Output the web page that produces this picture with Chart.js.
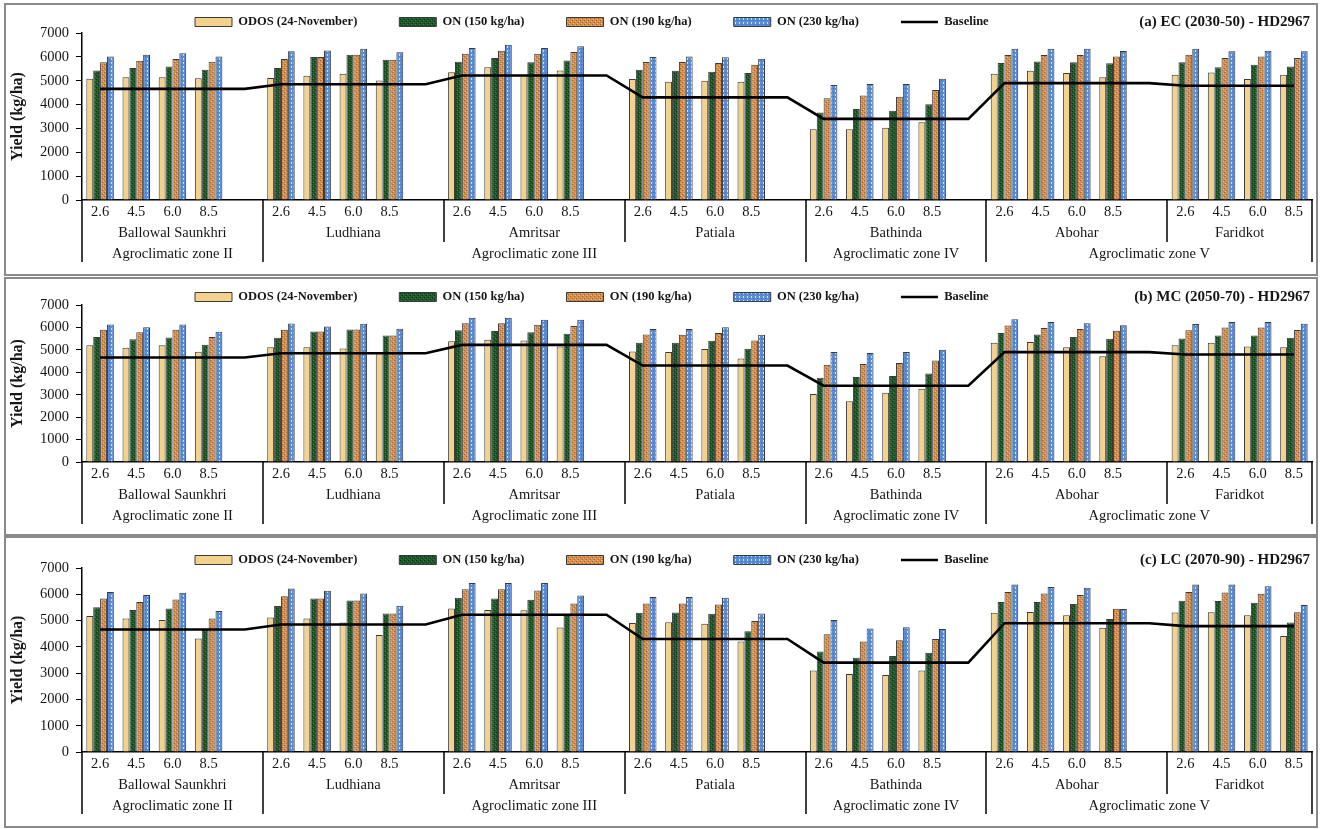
<!DOCTYPE html>
<html>
<head>
<meta charset="utf-8">
<script src="https://cdn.jsdelivr.net/npm/chart.js@4.4.1/dist/chart.umd.min.js"></script>
<style>
  body { margin: 0; background: #fff; }
  .panel { position: absolute; left: 4px; width: 1310px; border: 2px solid #8a8a8a; background: #fff; }
  canvas { display: block; }
</style>
</head>
<body>
<div class="panel" style="top:3px"><canvas id="cA" width="1310" height="269"></canvas></div>
<div class="panel" style="top:277px"><canvas id="cB" width="1310" height="255"></canvas></div>
<div class="panel" style="top:536px"><canvas id="cC" width="1310" height="288"></canvas></div>
<script>
const rcps = ['2.6', '4.5', '6.0', '8.5'];
const locations = ['Ballowal Saunkhri', 'Ludhiana', 'Amritsar', 'Patiala', 'Bathinda', 'Abohar', 'Faridkot'];
const zones = ['Agroclimatic zone II', 'Agroclimatic zone III', 'Agroclimatic zone IV', 'Agroclimatic zone V'];
const zoneOfLocation = [0, 1, 1, 1, 2, 3, 3];
const baseline = [4660, 4850, 5220, 4300, 3400, 4900, 4790];

// yields, 4 RCPs per location, locations in order above
const odosA  = [5080,5150,5150,5100, 5110,5210,5290,5010, 5350,5560,5250,5430, 5070,4960,5000,4960, 2970,2970,3030,3260, 5290,5420,5320,5140, 5250,5340,5070,5250];
const on150A = [5430,5530,5600,5460, 5530,5990,6090,5880, 5800,5950,5770,5850, 5460,5420,5380,5320, 3670,3810,3740,4010, 5740,5810,5770,5730, 5770,5560,5670,5600];
const on190A = [5770,5840,5910,5800, 5910,5990,6090,5880, 6130,6260,6130,6200, 5780,5780,5740,5670, 4260,4380,4330,4610, 6080,6080,6080,6020, 6090,5950,6010,5950];
const on230A = [6010,6090,6150,6020, 6230,6270,6340,6190, 6370,6510,6370,6440, 5990,6020,5980,5920, 4820,4860,4860,5080, 6340,6340,6340,6250, 6340,6230,6260,6230];

const odosB  = [5200,5090,5200,4920, 5120,5120,5060,4900, 5380,5450,5420,5150, 4930,4900,5040,4620, 3030,2710,3090,3270, 5320,5350,5120,4720, 5200,5320,5150,5120];
const on150B = [5570,5470,5550,5230, 5540,5820,5910,5640, 5870,5840,5780,5720, 5320,5320,5410,5050, 3760,3790,3830,3950, 5750,5690,5570,5500, 5510,5640,5640,5540];
const on190B = [5900,5780,5900,5570, 5900,5820,5910,5640, 6190,6190,6120,6060, 5690,5670,5750,5420, 4340,4370,4410,4530, 6090,5980,5930,5850, 5870,6000,6000,5880];
const on230B = [6130,6010,6130,5810, 6180,6040,6160,5940, 6430,6430,6340,6340, 5930,5930,6010,5670, 4900,4860,4900,5010, 6360,6240,6190,6100, 6150,6240,6240,6160];

const odosC  = [5170,5080,5020,4320, 5120,5080,4930,4450, 5460,5400,5390,4740, 4910,4940,4880,4200, 3100,2970,2930,3100, 5300,5330,5200,4730, 5310,5320,5200,4410];
const on150C = [5510,5400,5460,4640, 5550,5840,5760,5270, 5870,5840,5790,5210, 5300,5310,5260,4590, 3820,3590,3650,3780, 5710,5710,5630,5060, 5750,5740,5680,4930];
const on190C = [5840,5710,5800,5080, 5930,5840,5760,5270, 6190,6190,6140,5650, 5650,5650,5610,4980, 4480,4200,4250,4300, 6090,6030,5970,5450, 6090,6070,6020,5320];
const on230C = [6090,5970,6060,5360, 6220,6130,6030,5560, 6430,6430,6430,5950, 5900,5900,5870,5270, 5020,4700,4750,4680, 6370,6280,6250,5440, 6370,6370,6310,5590];

const seriesNames = ['ODOS (24-November)', 'ON (150 kg/ha)', 'ON (190 kg/ha)', 'ON (230 kg/ha)'];

// slot layout: 4 RCP slots per location, one empty slot between locations
const slotLabels = [];
const locStart = [];
const locEnd = [];
locations.forEach((loc, i) => {
    locStart.push(slotLabels.length);
    rcps.forEach(r => slotLabels.push(r));
    if (i < locations.length - 1) slotLabels.push('');
    locEnd.push(slotLabels.length - 1);
});
const nSlots = slotLabels.length;

const locCenters = locations.map((l, i) => (locStart[i] + locEnd[i]) / 2);
const zoneCenters = zones.map((z, zi) => {
    const idx = zoneOfLocation.map((v, i) => v === zi ? i : -1).filter(i => i >= 0);
    return (locStart[idx[0]] + locEnd[idx[idx.length - 1]]) / 2;
});

// vertical separators under the axis
const dividers = [{ at: -0.5, long: true }];
locations.forEach((l, i) => {
    if (i === 0) return;
    dividers.push({ at: locStart[i] - 0.5, long: zoneOfLocation[i] !== zoneOfLocation[i - 1] });
});
dividers.push({ at: nSlots - 0.5, long: true });

function toSlots(vals) {
    const out = [];
    locations.forEach((l, i) => {
        for (let k = 0; k < rcps.length; k++) out.push(vals[i * rcps.length + k]);
        if (i < locations.length - 1) out.push(null);
    });
    return out;
}

function baselineSlots() {
    const out = [];
    locations.forEach((l, i) => {
        for (let k = locStart[i]; k <= locEnd[i]; k++) out.push(baseline[i]);
    });
    return out;
}

function makePattern(base, px, size) {
    const c = document.createElement('canvas');
    c.width = size; c.height = size;
    const g = c.getContext('2d');
    g.fillStyle = base;
    g.fillRect(0, 0, size, size);
    px.forEach(p => { g.fillStyle = p[2]; g.fillRect(p[0], p[1], 1, 1); });
    return g.createPattern(c, 'repeat');
}

const fills = [
    '#f3d28e',
    makePattern('#1e5a29', [[0, 0, '#0c3614'], [2, 2, '#0c3614'], [1, 3, '#3b7f45'], [3, 1, '#3b7f45']], 4),
    makePattern('#d48f4e', [[0, 1, '#a6632b'], [2, 3, '#a6632b'], [1, 0, '#f0b575'], [3, 2, '#f0b575']], 4),
    makePattern('#5b8dd6', [[1, 1, '#dbe7fa'], [3, 3, '#3e6ebf'], [1, 2, '#c8daf5']], 4)
];

const serif = "'Liberation Serif', 'Times New Roman', serif";
const textColor = '#161616';

const panelDecor = {
    id: 'panelDecor',
    beforeUpdate(chart) {
        const lg = chart.legend;
        if (lg && !lg._noSpace) {
            const fit = lg.fit;
            lg.fit = function () { fit.call(this); this.height = 0; };
            lg._noSpace = true;
        }
    },
    afterLayout(chart, args, opts) {
        const lg = chart.legend;
        const pad = lg.options.labels.padding;
        lg.left = opts.legendX - pad;
        lg.right = chart.width;
        lg.top = opts.legendY - pad - 6.25;
        lg.bottom = opts.legendY + 12;
    },
    afterDraw(chart, args, opts) {
        const ctx = chart.ctx;
        const loc = chart.scales.loc;
        const y0 = chart.chartArea.bottom;
        ctx.save();
        ctx.strokeStyle = '#000';
        ctx.lineWidth = 1.5;
        dividers.forEach(d => {
            const x = Math.round(loc.getPixelForValue(d.at));
            ctx.beginPath();
            ctx.moveTo(x, y0);
            ctx.lineTo(x, y0 + (d.long ? opts.longLen : opts.shortLen));
            ctx.stroke();
        });
        ctx.font = 'bold 15px ' + serif;
        ctx.textAlign = 'right';
        ctx.textBaseline = 'middle';
        ctx.fillStyle = textColor;
        ctx.fillText(opts.title, chart.width - 6, opts.legendY);
        ctx.restore();
    }
};

const panels = [
    { id: 'cA', title: '(a) EC (2030-50) - HD2967', series: [odosA, on150A, on190A, on230A], top: 28, axisH: [21, 20, 33], legendY: 17 },
    { id: 'cB', title: '(b) MC (2050-70) - HD2967', series: [odosB, on150B, on190B, on230B], top: 26, axisH: [21, 20, 31], legendY: 18 },
    { id: 'cC', title: '(c) LC (2070-90) - HD2967', series: [odosC, on150C, on190C, on230C], top: 30, axisH: [21, 20, 33], legendY: 22 }
];

panels.forEach(p => {
    const datasets = p.series.map((vals, i) => ({
        type: 'bar',
        label: seriesNames[i],
        data: toSlots(vals),
        backgroundColor: fills[i],
        borderColor: '#3a3a3a',
        borderWidth: 1,
        categoryPercentage: 0.76,
        barPercentage: 1.0
    }));
    datasets.push({
        type: 'line',
        label: 'Baseline',
        data: baselineSlots(),
        borderColor: '#000',
        backgroundColor: '#000',
        borderWidth: 2.6,
        pointRadius: 0,
        tension: 0,
        fill: false,
        order: -1
    });

    const tickFont = { family: serif, size: 14.5 };

    new Chart(document.getElementById(p.id), {
        type: 'bar',
        data: { labels: slotLabels, datasets: datasets },
        plugins: [panelDecor],
        options: {
            responsive: false,
            devicePixelRatio: 1,
            animation: false,
            layout: { padding: { left: 0, right: 4, top: p.top, bottom: 0 } },
            plugins: {
                tooltip: { enabled: false },
                title: { display: false },
                legend: {
                    display: true,
                    position: 'top',
                    align: 'start',
                    labels: {
                        usePointStyle: true,
                        pointStyleWidth: 37,
                        boxHeight: 9,
                        padding: 42,
                        color: textColor,
                        font: { family: serif, size: 12.5, weight: 'bold' },
                        generateLabels: chart => chart.data.datasets.map((ds, i) => ({
                            text: ds.label,
                            fillStyle: ds.backgroundColor,
                            strokeStyle: ds.type === 'line' ? '#000' : '#3a3a3a',
                            lineWidth: ds.type === 'line' ? 2.6 : 1,
                            pointStyle: ds.type === 'line' ? 'line' : 'rect',
                            fontColor: textColor,
                            hidden: false,
                            datasetIndex: i
                        }))
                    }
                },
                panelDecor: { title: p.title, legendX: 189, legendY: p.legendY, longLen: 62, shortLen: 42 }
            },
            scales: {
                x: {
                    weight: 0,
                    grid: { display: false, drawTicks: false },
                    border: { display: true, color: '#000', width: 1.5 },
                    ticks: { autoSkip: false, maxRotation: 0, padding: 3, color: textColor, font: tickFont },
                    afterFit: s => { s.height = p.axisH[0]; }
                },
                loc: {
                    type: 'linear',
                    position: 'bottom',
                    weight: 1,
                    offset: false,
                    min: -0.5,
                    max: nSlots - 0.5,
                    afterBuildTicks: s => { s.ticks = locCenters.map(v => ({ value: v })); },
                    grid: { display: false, drawTicks: false, offset: false },
                    border: { display: false },
                    ticks: { autoSkip: false, maxRotation: 0, padding: 3, color: textColor, font: tickFont,
                        callback: (v, i) => locations[i] },
                    afterFit: s => { s.height = p.axisH[1]; }
                },
                zone: {
                    type: 'linear',
                    position: 'bottom',
                    weight: 2,
                    offset: false,
                    min: -0.5,
                    max: nSlots - 0.5,
                    afterBuildTicks: s => { s.ticks = zoneCenters.map(v => ({ value: v })); },
                    grid: { display: false, drawTicks: false, offset: false },
                    border: { display: false },
                    ticks: { autoSkip: false, maxRotation: 0, padding: 4, color: textColor, font: tickFont,
                        callback: (v, i) => zones[i] },
                    afterFit: s => { s.height = p.axisH[2]; }
                },
                y: {
                    min: 0,
                    max: 7000,
                    ticks: { stepSize: 1000, padding: 7, color: textColor, font: tickFont, callback: v => String(v) },
                    grid: { display: true, drawOnChartArea: false, drawTicks: true, tickLength: 6, color: '#000' },
                    border: { display: true, color: '#000', width: 1.5 },
                    title: { display: true, text: 'Yield (kg/ha)', color: textColor,
                        font: { family: serif, size: 16, weight: 'bold' }, padding: { top: 2, bottom: 4 } },
                    afterFit: s => { s.width = 76; }
                }
            }
        }
    });
});
</script>
</body>
</html>
